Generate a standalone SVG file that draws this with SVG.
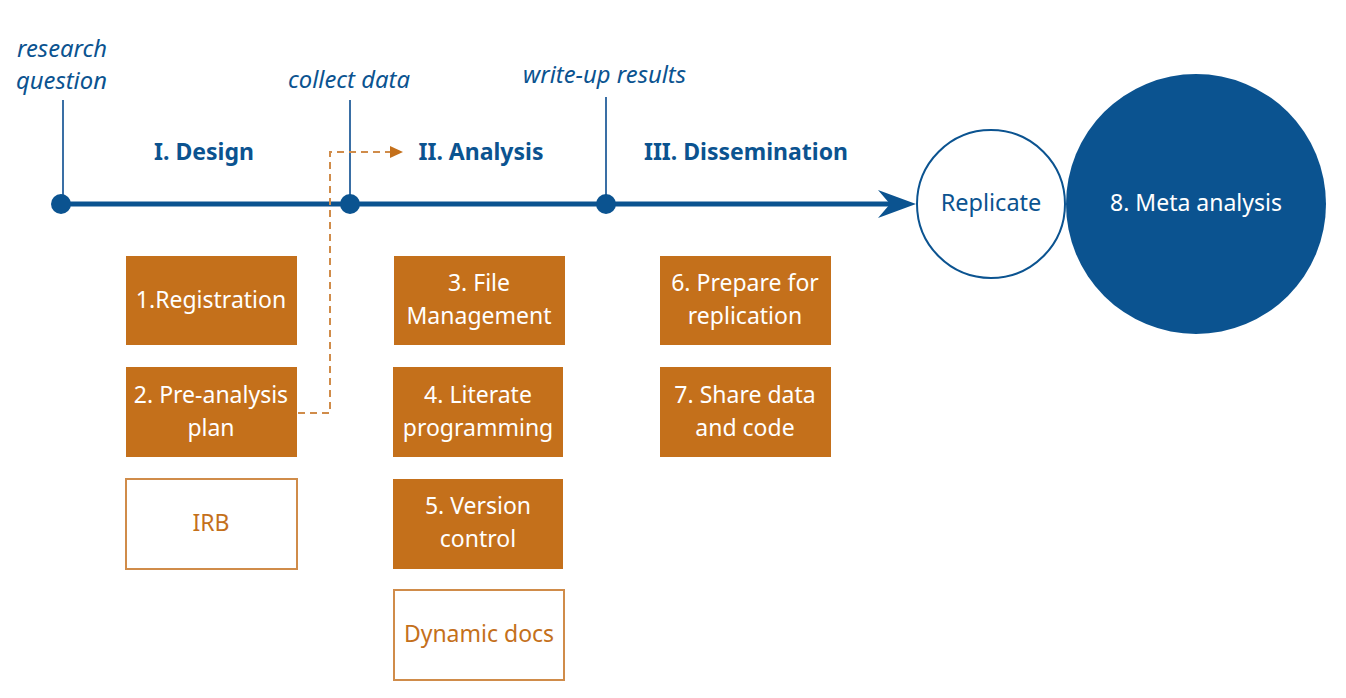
<svg xmlns="http://www.w3.org/2000/svg" width="1346" height="698" viewBox="0 0 1346 698">
<style>
text{font-family:"Noto Sans","Open Sans","Liberation Sans",sans-serif;}
.lbl{font-style:italic;font-size:23.8px;fill:#0B5390;}
.ph{font-weight:bold;font-size:23px;fill:#0B5390;text-anchor:middle;}
.box{fill:#C4701B;}
.obox{fill:#fff;stroke:#D08C4A;stroke-width:2;}
.bt{font-size:23px;fill:#fff;text-anchor:middle;}
.ot{font-size:23px;fill:#C4701B;text-anchor:middle;}
.tick{stroke:#3A6FA5;stroke-width:2;}
</style>
<rect width="1346" height="698" fill="#fff"/>
<g id="connectors">
<line class="tick" x1="63" y1="100" x2="63" y2="204"/>
<line class="tick" x1="350" y1="100" x2="350" y2="204"/>
<line class="tick" x1="606" y1="97" x2="606" y2="204"/>
<line x1="60" y1="204" x2="895" y2="204" stroke="#0B5390" stroke-width="5"/>
<path d="M916,204 L878,190 L890,204 L878,218 Z" fill="#0B5390"/>
<circle cx="61" cy="204" r="10" fill="#0B5390"/>
<circle cx="350" cy="204" r="10" fill="#0B5390"/>
<circle cx="606" cy="204" r="10" fill="#0B5390"/>
<path d="M298,413 H330 V152 H392" fill="none" stroke="#D08C4A" stroke-width="2" stroke-dasharray="7,5"/>
<path d="M403,152 L390,146 L390,158 Z" fill="#C4701B"/>
</g>
<g id="labels">
<text class="lbl" x="17" y="57">research</text>
<text class="lbl" x="16" y="89">question</text>
<text class="lbl" x="288" y="88">collect data</text>
<text class="lbl" x="523" y="83">write-up results</text>
<text class="ph" x="204" y="160">I. Design</text>
<text class="ph" x="481" y="160">II. Analysis</text>
<text class="ph" x="746" y="160">III. Dissemination</text>
</g>
<g id="n1"><rect class="box" x="126" y="256" width="171" height="89"/><text class="bt" x="211" y="308">1.Registration</text></g>
<g id="n2"><rect class="box" x="126" y="367" width="171" height="90"/><text class="bt" x="211" y="403">2. Pre-analysis</text><text class="bt" x="211" y="436">plan</text></g>
<g id="irb"><rect class="obox" x="126" y="479" width="171" height="90"/><text class="ot" x="211" y="531">IRB</text></g>
<g id="n3"><rect class="box" x="394" y="256" width="171" height="89"/><text class="bt" x="479" y="291">3. File</text><text class="bt" x="479" y="324">Management</text></g>
<g id="n4"><rect class="box" x="393" y="367" width="170" height="90"/><text class="bt" x="478" y="403">4. Literate</text><text class="bt" x="478" y="436">programming</text></g>
<g id="n5"><rect class="box" x="393" y="479" width="170" height="90"/><text class="bt" x="478" y="514">5. Version</text><text class="bt" x="478" y="547">control</text></g>
<g id="dyn"><rect class="obox" x="394" y="590" width="170" height="90"/><text class="ot" x="479" y="642">Dynamic docs</text></g>
<g id="n6"><rect class="box" x="660" y="256" width="171" height="89"/><text class="bt" x="745" y="291">6. Prepare for</text><text class="bt" x="745" y="324">replication</text></g>
<g id="n7"><rect class="box" x="660" y="367" width="171" height="90"/><text class="bt" x="745" y="403">7. Share data</text><text class="bt" x="745" y="436">and code</text></g>
<g id="replicate"><circle cx="991" cy="204" r="74" fill="#fff" stroke="#0B5390" stroke-width="2"/><text x="991" y="211" font-size="23.5" fill="#0B5390" text-anchor="middle">Replicate</text></g>
<g id="meta"><circle cx="1196" cy="204" r="130" fill="#0B5390"/><text x="1196" y="211" font-size="23" fill="#fff" text-anchor="middle">8. Meta analysis</text></g>
</svg>
